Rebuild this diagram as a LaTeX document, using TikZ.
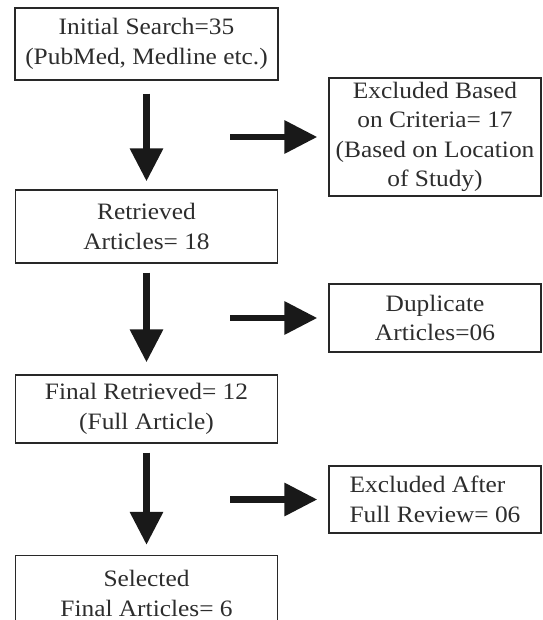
\documentclass[tikz,border=0pt]{standalone}
\usepackage{fontspec}
\setmainfont{Liberation Serif}[FakeStretch=1.08]
\usepackage{tikz}
\usetikzlibrary{shapes,arrows.meta}
\definecolor{boxline}{RGB}{40,40,40}
\definecolor{boxtext}{RGB}{45,45,45}
\definecolor{flowline}{RGB}{25,25,25}

\begin{document}
\begin{tikzpicture}[x=1pt,y=1pt,yscale=-1,xscale=1,
  box/.style={draw=boxline, line width=1.4pt, inner sep=0pt, align=center, text=boxtext, font=\fontsize{23.5}{29.5}\selectfont},
  flow/.style={draw=flowline, line width=6.5pt, -{Triangle[length=33pt,width=32pt]}}]
%set diagram size 542 x 620
\useasboundingbox (0,0) rectangle (542,620);
\clip (0,0) rectangle (542,620);
% Left column
\node [box, minimum width=263pt, minimum height=72pt] (search) at (146.5,44) {Initial Search=35\\(PubMed, Medline etc.)};
\node [box, minimum width=262pt, minimum height=73pt] (retr) at (146.5,226.5) {Retrieved\\Articles= 18};
\node [box, minimum width=262pt, minimum height=68pt] (final) at (146.5,409) {Final Retrieved= 12\\(Full Article)};
\node [box, minimum width=262pt, minimum height=76pt] (sel) at (146.5,593.5) {Selected\\Final Articles= 6};
% Right column
\node [box, minimum width=212pt, minimum height=118pt] (crit) at (435,137) {Excluded Based\\on Criteria= 17\\(Based on Location\\of Study)};
\node [box, minimum width=212pt, minimum height=68pt] (dup) at (435,318) {Duplicate\\Articles=06};
\node [box, minimum width=212pt, minimum height=67pt, align=left] (rev) at (435,499.5) {Excluded After\\Full Review= 06};
% Down arrows
\draw [flow] ([yshift=13pt]search.south) -- ([yshift=-8pt]retr.north);
\draw [flow] ([yshift=9pt]retr.south) -- ([yshift=-12pt]final.north);
\draw [flow] ([yshift=9pt]final.south) -- ([yshift=-10pt]sel.north);
% Side arrows
\coordinate (s1) at (230,137);
\coordinate (s2) at (230,318);
\coordinate (s3) at (230,499.5);
\draw [flow] (s1) -- ([xshift=-11pt]crit.west);
\draw [flow] (s2) -- ([xshift=-11pt]dup.west);
\draw [flow] (s3) -- ([xshift=-11pt]rev.west);
\end{tikzpicture}
\end{document}
